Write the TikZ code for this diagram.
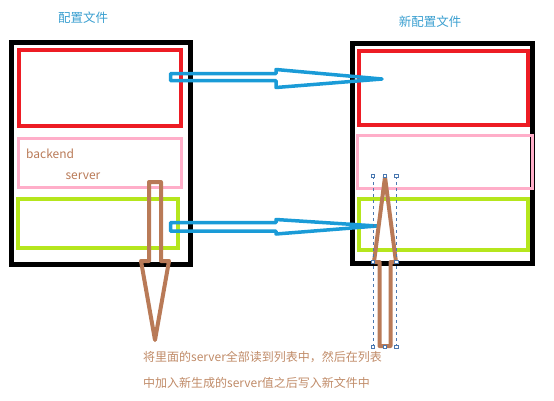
\documentclass[tikz,border=0pt]{standalone}
\usepackage{fontspec}
\setmainfont{Noto Sans CJK SC}
\definecolor{paintred}{HTML}{ED1C24}
\definecolor{paintpink}{HTML}{FFAEC9}
\definecolor{paintlime}{HTML}{B5E61D}
\definecolor{paintblue}{HTML}{1A9BD7}
\definecolor{paintbrown}{HTML}{B97A57}
\definecolor{titleblue}{HTML}{3A9FD0}
\definecolor{notebrown}{HTML}{C08B68}
\definecolor{handle}{HTML}{4A78B0}

\begin{document}
\begin{tikzpicture}[
  x=1pt, y=-1pt,
  file/.style    = {draw=black, line width=5pt, inner sep=0pt},
  part/.style    = {inner sep=0pt},
  head/.style    = {part, draw=paintred, line width=4pt},
  backend/.style = {part, draw=paintpink, line width=3pt},
  tail/.style    = {part, draw=paintlime, line width=4pt},
  copy/.style    = {draw=paintblue, line width=3.5pt, line join=round},
  move/.style    = {draw=paintbrown, line width=4pt, line join=round},
  title/.style   = {text=titleblue, font=\fontsize{12.5}{15}\selectfont},
  word/.style    = {text=paintbrown, font=\fontsize{12}{14}\selectfont, inner sep=0pt},
  note/.style    = {text=notebrown, font=\fontsize{12}{14}\selectfont, anchor=west, inner sep=0pt},
  grip/.style    = {draw=handle, fill=white, line width=0.6pt, minimum size=3.5pt, inner sep=0pt},
  frame/.style   = {draw=handle, dashed, line width=0.5pt},
]
  \useasboundingbox (0,0) rectangle (554,400);

  % the old file and its three parts
  \node[file, minimum width=179pt, minimum height=222pt] (oldfile) at (101,153.5) {};
  \node[head, minimum width=162pt, minimum height=76pt] (oldhead) at (100,88) {};
  \node[backend, minimum width=163pt, minimum height=48.5pt] (oldbackend) at (100,162.75) {};
  \node[tail, minimum width=160pt, minimum height=49pt] (oldtail) at (98,223.5) {};
  \node[word, anchor=west] (bkname) at (26,154) {backend};
  \node[word] (srvname) at (83,176) {server};

  % the new file
  \node[file, minimum width=180pt, minimum height=219.5pt] (newfile) at (442.5,153.25) {};
  \node[head, minimum width=169pt, minimum height=74pt] (newhead) at (443.5,88) {};
  \node[backend, minimum width=175pt, minimum height=53pt] (newbackend) at (444.5,161.5) {};
  \node[tail, minimum width=169pt, minimum height=51pt] (newtail) at (443.5,224.5) {};

  \node[title] (oldtitle) at (83,18) {配置文件};
  \node[title] (newtitle) at (430,22) {新配置文件};

  % hollow block arrows
  \draw[copy] (170.5,73.5) -- (276,73.5) -- (276,69.5) -- (382,79)
    -- (276,87.5) -- (276,80.5) -- (170.5,80.5) -- cycle;
  \draw[copy] (170.5,222.5) -- (276,222.5) -- (276,219.5) -- (377,226)
    -- (276,234) -- (276,231) -- (170.5,231) -- cycle;
  \draw[move] (149,182) -- (161,182) -- (161,261) -- (169,261) -- (155,340)
    -- (141,261) -- (149,261) -- cycle;
  \draw[move] (385,177) -- (396,262) -- (390.5,262) -- (390.5,346)
    -- (379.5,346) -- (379.5,262) -- (374,262) -- cycle;

  % selection handles round the arrow that goes up
  \draw[frame] (373,176) -- (373,347);
  \draw[frame] (396.5,176) -- (396.5,347);
  \foreach \gx in {373,385,396.5}
    \foreach \gy in {176,347}
      \node[grip] at (\gx,\gy) {};
  \node[grip] at (373,262) {};
  \node[grip] at (396.5,262) {};

  \node[note] (noteone) at (143,357) {将里面的server全部读到列表中，然后在列表};
  \node[note] (notetwo) at (143,383) {中加入新生成的server值之后写入新文件中};
\end{tikzpicture}
\end{document}
